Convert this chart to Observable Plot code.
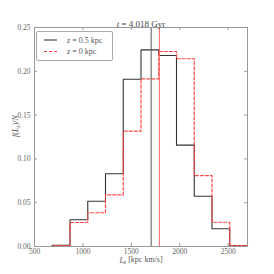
<!DOCTYPE html>
<html><head><meta charset="utf-8">
<script src="https://cdn.jsdelivr.net/npm/d3@7"></script>
<script src="https://cdn.jsdelivr.net/npm/@observablehq/plot@0.6"></script>
<style>
body{margin:0;background:#fff}
#wrap{position:relative;width:274px;height:274px}
#legend{position:absolute;left:36px;top:31px;width:75px;height:28px;border:1px solid #aaa;border-radius:2px;background:#fff;font-family:"Liberation Serif",serif;font-size:8px;color:#555}
</style></head><body><div id="wrap"></div>
<script>
// Data
const binEdges = [500, 683.3, 866.7, 1050, 1233.3, 1416.7, 1600, 1783.3, 1966.7, 2150, 2333.3, 2516.7, 2700];
const blackValues = [0, 0.0015, 0.0305, 0.0517, 0.083, 0.191, 0.2245, 0.218, 0.1157, 0.0574, 0.0202, 0.001];
const redValues = [0, 0.001, 0.0274, 0.0385, 0.059, 0.1316, 0.1914, 0.2226, 0.2143, 0.081, 0.0277, 0.001];
const seriesNames = ["z = 0.5 kpc", "z = 0 kpc"];
const meanValues = [1705, 1790];
const xTicks = [500, 1000, 1500, 2000, 2500];
const yTicks = [0, 0.05, 0.10, 0.15, 0.20, 0.25];
const titleText = "t = 4.018 Gyr";
const xLabelText = "L_z [kpc km/s]";
const yLabelText = "f(L_z)/N";

const W = 274, H = 274, mL = 34, mR = 27, mT = 27, mB = 28;
const frameH = H - mT - mB, frameW = W - mL - mR;
const tick = 3;

function stepPath(vals) {
  const pts = [{x: binEdges[0], y: 0}];
  vals.forEach((v, i) => { pts.push({x: binEdges[i], y: v}); pts.push({x: binEdges[i + 1], y: v}); });
  pts.push({x: binEdges[binEdges.length - 1], y: 0});
  return pts;
}
const blackPts = stepPath(blackValues);
const redPts = stepPath(redValues);
const means = meanValues.map((x, i) => ({x, s: seriesNames[i]}));

const plot = Plot.plot({
  width: W, height: H,
  marginLeft: mL, marginRight: mR, marginTop: mT, marginBottom: mB,
  style: {fontFamily: "'Liberation Serif', serif", fontSize: "7.5px", color: "#555", background: "#fff"},
  x: {domain: [binEdges[0], binEdges[binEdges.length - 1]], ticks: xTicks, tickFormat: d3.format("d")},
  y: {domain: [0, 0.25], ticks: yTicks, tickFormat: d3.format(".2f")},
  marks: [
    Plot.line(blackPts, {x: "x", y: "y", stroke: "#333", strokeWidth: 1.1}),
    Plot.line(redPts, {x: "x", y: "y", stroke: "#f44", strokeWidth: 1.2, strokeDasharray: "3,2"}),
    Plot.ruleX(means, {x: "x", stroke: d => d.s === seriesNames[0] ? "#555" : "#f66", strokeWidth: 1}),
    Plot.frame({stroke: "#999"}),
    Plot.axisX({ticks: xTicks, tickSize: 0, tickPadding: 2, tickFormat: d3.format("d"), label: null, fill: "#666"}),
    Plot.axisY({ticks: yTicks, tickSize: 0, tickPadding: 4, tickFormat: d3.format(".2f"), label: null, fill: "#666"}),
    Plot.tickX(xTicks, {x: d => d, insetTop: frameH - tick, stroke: "#999"}),
    Plot.tickX(xTicks, {x: d => d, insetBottom: frameH - tick, stroke: "#999"}),
    Plot.tickY(yTicks, {y: d => d, insetRight: frameW - tick, stroke: "#999"}),
    Plot.tickY(yTicks, {y: d => d, insetLeft: frameW - tick, stroke: "#999"}),
    Plot.text([titleText], {text: d => d, frameAnchor: "top", dy: -7, fontSize: 9, fill: "#444"}),
    Plot.text([xLabelText], {text: d => d, frameAnchor: "bottom", dy: 16, fontSize: 8, fill: "#555"}),
    Plot.text([yLabelText], {text: d => d, frameAnchor: "left", dx: -19, rotate: -90, fontSize: 8, fill: "#555"})
  ]
});
document.getElementById("wrap").appendChild(plot);

function rich(str, parts) {
  d3.select(plot).selectAll("text").filter(function () { return this.textContent === str; }).each(function () {
    const t = d3.select(this);
    t.selectAll("*").remove();
    t.text(null);
    parts.forEach(p => {
      const ts = t.append("tspan").text(p.t);
      if (p.i) ts.attr("font-style", "italic");
      if (p.sub) ts.attr("dy", "0.25em").attr("font-size", "0.75em");
      if (p.after) ts.attr("dy", "-0.25em");
    });
  });
}
rich(titleText, [{t: "t", i: true}, {t: " = 4.018 Gyr"}]);
rich(xLabelText, [{t: "L", i: true}, {t: "z", i: true, sub: true}, {t: " [kpc km/s]", after: true}]);
rich(yLabelText, [{t: "f", i: true}, {t: "("}, {t: "L", i: true}, {t: "z", i: true, sub: true}, {t: ")/", after: true}, {t: "N", i: true}]);

// Legend
const leg = d3.select("#wrap").append("div").attr("id", "legend");
const lsvg = leg.append("svg").attr("width", 75).attr("height", 28);
const styles = [{stroke: "#333", dash: null, w: 1.1}, {stroke: "#f44", dash: "3,2", w: 1.2}];
seriesNames.forEach((name, i) => {
  const y = 8 + i * 11.5;
  lsvg.append("line").attr("x1", 7).attr("x2", 20).attr("y1", y).attr("y2", y)
    .attr("stroke", styles[i].stroke).attr("stroke-width", styles[i].w).attr("stroke-dasharray", styles[i].dash);
  const t = lsvg.append("text").attr("x", 30).attr("y", y).attr("dy", "0.35em")
    .attr("font-family", "'Liberation Serif', serif").attr("font-size", 8).attr("fill", "#555");
  const parts = name.split(" = ");
  t.append("tspan").attr("font-style", "italic").text(parts[0]);
  t.append("tspan").text(" = " + parts[1]);
});
</script></body></html>
